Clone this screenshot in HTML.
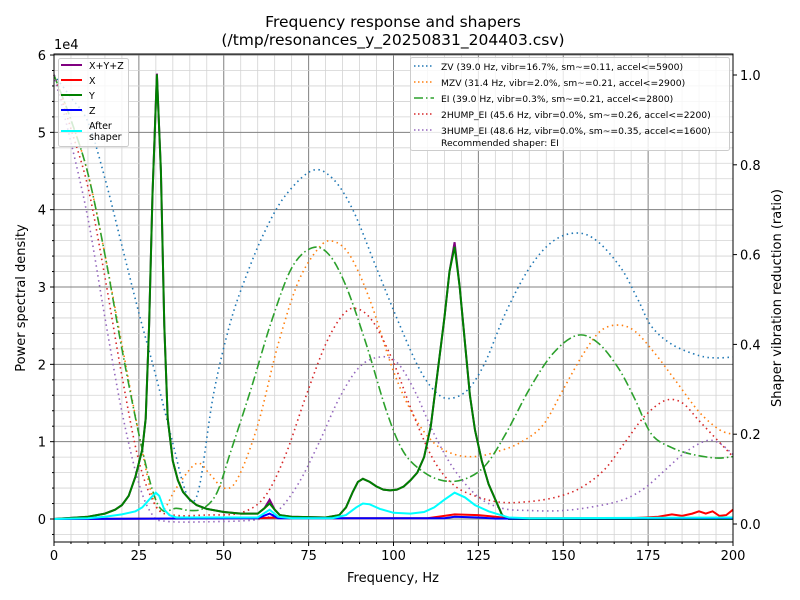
<!DOCTYPE html>
<html><head><meta charset="utf-8">
<style>
html,body{margin:0;padding:0;background:#fff;}
svg{display:block;font-family:"DejaVu Sans","Liberation Sans",sans-serif;}
</style></head>
<body>
<svg id="s" width="800" height="600" viewBox="0 0 800 600" xmlns="http://www.w3.org/2000/svg">
<rect width="800" height="600" fill="#fff"/>
<g id="grid"></g>
<g id="curves"></g>
<rect x="54" y="54" width="679" height="488" fill="none" stroke="#000" stroke-width="1"/>
<g id="ticks" font-size="13" fill="#000"></g>
<text x="393" y="27" font-size="15.5" text-anchor="middle">Frequency response and shapers</text>
<text x="393" y="45" font-size="15.5" text-anchor="middle">(/tmp/resonances_y_20250831_204403.csv)</text>
<text x="54" y="49" font-size="13">1e4</text>
<text x="393" y="582" font-size="13" text-anchor="middle">Frequency, Hz</text>
<text transform="translate(25,298) rotate(-90)" font-size="13" text-anchor="middle">Power spectral density</text>
<text transform="translate(781,298) rotate(-90)" font-size="13" text-anchor="middle">Shaper vibration reduction (ratio)</text>
<g>
<rect x="58.5" y="58.5" width="70" height="88" rx="2" fill="#fff" fill-opacity="0.8" stroke="#ccc"/>
<line x1="61" y1="65" x2="82" y2="65" stroke="#800080" stroke-width="2"/>
<line x1="61" y1="80" x2="82" y2="80" stroke="#f00" stroke-width="2"/>
<line x1="61" y1="95" x2="82" y2="95" stroke="#008000" stroke-width="2"/>
<line x1="61" y1="110" x2="82" y2="110" stroke="#00f" stroke-width="2"/>
<line x1="61" y1="131" x2="82" y2="131" stroke="#0ff" stroke-width="2"/>
<g font-size="9.5"><text x="89" y="69">X+Y+Z</text><text x="89" y="84">X</text><text x="89" y="99">Y</text><text x="89" y="114">Z</text><text x="89" y="129">After</text><text x="89" y="140">shaper</text></g>
</g>
<g>
<rect x="410.5" y="57.5" width="319" height="93" rx="2" fill="#fff" fill-opacity="0.8" stroke="#ccc"/>
<line x1="414" y1="66" x2="434" y2="66" stroke="#1f77b4" stroke-width="1.5" stroke-dasharray="1.5,2.5"/>
<line x1="414" y1="82" x2="434" y2="82" stroke="#ff7f0e" stroke-width="1.5" stroke-dasharray="1.5,2.5"/>
<line x1="414" y1="98" x2="434" y2="98" stroke="#2ca02c" stroke-width="1.5" stroke-dasharray="9,3,1.5,3"/>
<line x1="414" y1="114" x2="434" y2="114" stroke="#d62728" stroke-width="1.5" stroke-dasharray="1.5,2.5"/>
<line x1="414" y1="130" x2="434" y2="130" stroke="#9467bd" stroke-width="1.5" stroke-dasharray="1.5,2.5"/>
<g font-size="9.2"><text x="441" y="70">ZV (39.0 Hz, vibr=16.7%, sm~=0.11, accel&lt;=5900)</text>
<text x="441" y="86">MZV (31.4 Hz, vibr=2.0%, sm~=0.21, accel&lt;=2900)</text>
<text x="441" y="102">EI (39.0 Hz, vibr=0.3%, sm~=0.21, accel&lt;=2800)</text>
<text x="441" y="118">2HUMP_EI (45.6 Hz, vibr=0.0%, sm~=0.26, accel&lt;=2200)</text>
<text x="441" y="134">3HUMP_EI (48.6 Hz, vibr=0.0%, sm~=0.35, accel&lt;=1600)</text>
<text x="441" y="146">Recommended shaper: EI</text></g>
</g>
</svg>
<script>
var NS="http://www.w3.org/2000/svg";
function X(f){return 54+f*3.395;}
function YL(v){return 519-v*77.33;}
function YR(r){return 524-r*449;}
function el(p,t,a){var e=document.createElementNS(NS,t);for(var k in a)e.setAttribute(k,a[k]);p.appendChild(e);return e;}
var grid=document.getElementById('grid'),ticks=document.getElementById('ticks'),cur=document.getElementById('curves');
for(var f=0;f<=200;f+=5){var maj=f%25==0;el(grid,'line',{x1:X(f),x2:X(f),y1:54,y2:542,stroke:maj?'#808080':'#d3d3d3','stroke-width':maj?1:0.8});
 el(ticks,'line',{x1:X(f),x2:X(f),y1:542,y2:maj?546:544,stroke:'#000'});
 if(maj){var t=el(ticks,'text',{x:X(f),y:560,'text-anchor':'middle'});t.textContent=f;}}
for(var v=-0.2;v<=6.01;v+=0.2){v=Math.round(v*10)/10;var maj=Math.abs(v-Math.round(v))<1e-6;var y=YL(v);if(y<54||y>542)continue;
 el(grid,'line',{x1:54,x2:733,y1:y,y2:y,stroke:maj?'#808080':'#d3d3d3','stroke-width':maj?1:0.8});
 el(ticks,'line',{x1:54,x2:maj?50:52,y1:y,y2:y,stroke:'#000'});
 if(maj){var t=el(ticks,'text',{x:46,y:y+5,'text-anchor':'end'});t.textContent=Math.round(v);}}
for(var r=0;r<=1.01;r+=0.2){var y=YR(r);el(ticks,'line',{x1:733,x2:737,y1:y,y2:y,stroke:'#000'});var t=el(ticks,'text',{x:740,y:y+5});t.textContent=r.toFixed(1);}
function path(pts,yf){var P=pts.map(function(p){return [X(p[0]),yf(p[1])];});var d='M'+P[0][0].toFixed(1)+','+P[0][1].toFixed(1);
 var lim=yf(0.003);
 for(var i=0;i<P.length-1;i++){var p0=P[Math.max(0,i-1)],p1=P[i],p2=P[i+1],p3=P[Math.min(P.length-1,i+2)];
 var c1=[p1[0]+(p2[0]-p0[0])/6,Math.min(lim,p1[1]+(p2[1]-p0[1])/6)],c2=[p2[0]-(p3[0]-p1[0])/6,Math.min(lim,p2[1]-(p3[1]-p1[1])/6)];
 d+='C'+c1[0].toFixed(1)+','+c1[1].toFixed(1)+' '+c2[0].toFixed(1)+','+c2[1].toFixed(1)+' '+p2[0].toFixed(1)+','+p2[1].toFixed(1);}return d;}
function lin(pts,yf){return 'M'+pts.map(function(p){return X(p[0]).toFixed(1)+','+yf(p[1]).toFixed(1);}).join('L');}
var ZV=[[0,1],[5,0.95],[10,0.895],[15,0.77],[20,0.62],[25,0.47],[30,0.33],[35,0.18],[38,0.09],[40.5,0.05],[43,0.09],[47,0.29],[52,0.45],[57,0.56],[62,0.65],[68,0.73],[76,0.787],[82,0.77],[88,0.7],[95,0.57],[102,0.44],[108,0.34],[113,0.29],[117,0.28],[122,0.3],[127,0.36],[133,0.47],[140,0.57],[147,0.63],[154,0.648],[160,0.63],[167,0.57],[172,0.5],[176,0.44],[182,0.4],[190,0.375],[195,0.37],[200,0.372]];
var MZV=[[0,1],[5,0.9],[10,0.78],[15,0.6],[20,0.4],[25,0.2],[29,0.06],[32,0.03],[36,0.08],[42,0.135],[46,0.11],[50,0.08],[54,0.1],[60,0.22],[66,0.4],[72,0.54],[78,0.615],[82,0.63],[87,0.6],[93,0.5],[100,0.34],[106,0.24],[112,0.18],[118,0.155],[124,0.15],[130,0.16],[137,0.18],[144,0.22],[150,0.3],[156,0.38],[161,0.43],[166,0.443],[171,0.43],[177,0.38],[183,0.32],[190,0.25],[196,0.21],[200,0.2]];
var EI=[[0,1],[5,0.9],[10,0.78],[15,0.6],[20,0.39],[25,0.2],[29,0.075],[32,0.03],[36,0.035],[40,0.03],[44,0.035],[48,0.07],[52,0.16],[58,0.3],[64,0.45],[70,0.57],[76,0.615],[81,0.6],[86,0.53],[92,0.4],[98,0.25],[103,0.16],[109,0.115],[115,0.096],[121,0.1],[127,0.13],[133,0.2],[140,0.3],[147,0.38],[154,0.42],[160,0.405],[166,0.35],[171,0.28],[176,0.2],[182,0.17],[188,0.155],[195,0.147],[200,0.15]];
var H2=[[0,1],[5,0.88],[10,0.75],[15,0.55],[20,0.33],[25,0.14],[30,0.04],[35,0.02],[45,0.02],[55,0.025],[62,0.06],[68,0.15],[74,0.28],[80,0.4],[85,0.465],[89,0.48],[94,0.45],[100,0.36],[106,0.24],[112,0.14],[118,0.085],[125,0.06],[132,0.048],[140,0.05],[148,0.06],[155,0.08],[162,0.12],[168,0.18],[174,0.24],[180,0.275],[185,0.27],[190,0.23],[195,0.19],[200,0.15]];
var H3=[[0,1],[5,0.85],[10,0.68],[15,0.46],[20,0.25],[25,0.09],[29,0.02],[33,0.006],[45,0.005],[60,0.01],[66,0.03],[72,0.09],[78,0.18],[84,0.28],[90,0.35],[96,0.372],[101,0.36],[106,0.3],[112,0.2],[118,0.12],[125,0.06],[132,0.035],[140,0.03],[150,0.03],[160,0.04],[168,0.055],[174,0.08],[180,0.12],[186,0.16],[192,0.185],[196,0.18],[200,0.155]];
function dline(d,c,dash,w){el(cur,'path',{d:d,fill:'none',stroke:c,'stroke-width':w||1.6,'stroke-dasharray':dash});}
var Y=[[0,0],[10,0.03],[15,0.07],[18,0.12],[20,0.18],[22,0.3],[24,0.55],[26,0.9],[27,1.3],[28,2.5],[29,4.2],[30.3,5.75],[31.5,4.5],[32.5,2.5],[33.5,1.3],[35,0.75],[36.5,0.5],[38,0.35],[40,0.25],[42,0.18],[45,0.13],[50,0.09],[55,0.07],[60,0.07],[62,0.14],[63.5,0.2],[65,0.12],[66.5,0.05],[70,0.03],[80,0.02],[84,0.05],[86,0.15],[88,0.35],[89.5,0.48],[91,0.52],[93,0.48],[95,0.42],[97,0.38],[99,0.37],[101,0.38],[103,0.42],[105,0.5],[107,0.6],[109,0.8],[111,1.2],[113,1.9],[115,2.6],[116.5,3.2],[118,3.52],[119.5,3.0],[121,2.3],[122.5,1.6],[124,1.15],[126,0.75],[128,0.45],[130,0.25],[132,0.05],[134,0],[200,0]];
var XYZ=Y.map(function(p){var v=p[1];if(p[0]==118)v=3.58;if(p[0]==63.5)v=0.25;if(p[0]==30.3)v=5.76;return [p[0],v];});
var Xs=[[0,0],[60,0.01],[65,0.02],[70,0.01],[110,0.01],[115,0.04],[118,0.06],[125,0.05],[130,0.03],[134,0.01],[170,0.01],[178,0.03],[182,0.06],[185,0.04],[188,0.07],[190,0.1],[192,0.07],[194,0.1],[196,0.04],[198,0.05],[200,0.12]];
var Zs=[[0,0],[60,0.01],[63.5,0.07],[66,0.01],[115,0.01],[118,0.03],[125,0.02],[130,0.005],[200,0.01]];
var AS=[[0,0],[10,0.01],[15,0.03],[20,0.06],[24,0.1],[26,0.15],[28,0.25],[30,0.34],[31,0.3],[32.5,0.12],[34,0.05],[36,0.02],[60,0.02],[63.5,0.12],[66,0.03],[70,0.01],[82,0.01],[86,0.05],[89,0.15],[91,0.2],[93,0.19],[96,0.13],[100,0.08],[105,0.07],[109,0.09],[112,0.15],[115,0.25],[118,0.34],[121,0.28],[124,0.18],[128,0.1],[131,0.06],[134,0.02],[140,0.01],[200,0.02]];
dline(path(ZV,YR),'#1f77b4','1.5,3.5');
dline(path(MZV,YR),'#ff7f0e','1.5,3.5');
dline(path(EI,YR),'#2ca02c','9,3,1.5,3');
dline(path(H2,YR),'#d62728','1.5,3.5');
dline(path(H3,YR),'#9467bd','1.5,3.5');
dline(lin(XYZ,YL),'#800080',null,2);
dline(lin(Xs,YL),'#f00',null,2);
dline(lin(Y,YL),'#008000',null,2);
dline(lin(Zs,YL),'#00f',null,2);
dline(lin(AS,YL),'#0ff',null,2);
</script>
</body></html>
